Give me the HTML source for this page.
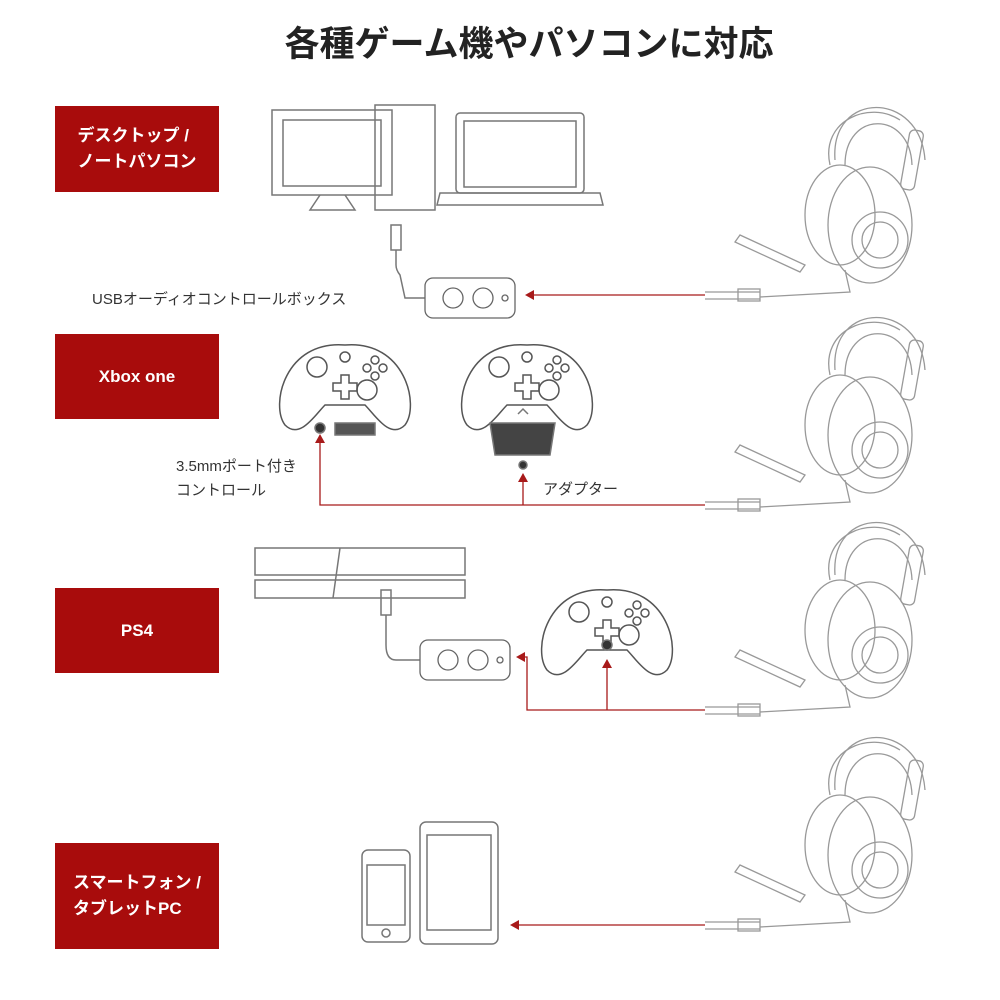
<!DOCTYPE html>
<html><head><meta charset="utf-8"><style>
html,body{margin:0;padding:0;background:#fff;}
#c{position:relative;width:1000px;height:1000px;overflow:hidden;font-family:"Liberation Sans","Noto Sans CJK JP",sans-serif;}
.t{position:absolute;left:0;width:1000px;top:16px;text-align:center;font-size:35px;font-weight:bold;color:#222;font-family:"Noto Sans CJK JP",sans-serif;padding-left:58px;box-sizing:border-box;}
.box{position:absolute;left:55px;width:164px;background:#a80c0c;color:#fff;font-weight:bold;font-size:17px;display:flex;align-items:center;justify-content:center;text-align:left;line-height:26px;font-family:"Liberation Sans","Noto Sans CJK JP",sans-serif;}
.lab{position:absolute;font-size:15px;color:#333;line-height:24px;font-family:"Liberation Sans","Noto Sans CJK JP",sans-serif;}
svg{position:absolute;left:0;top:0;}
</style></head><body><div id="c">
<div class="t">各種ゲーム機やパソコンに対応</div>
<div class="box" style="top:106px;height:86px;">デスクトップ /<br>ノートパソコン</div>
<div class="box" style="top:334px;height:85px;">Xbox one</div>
<div class="box" style="top:588px;height:85px;">PS4</div>
<div class="box" style="top:843px;height:106px;">スマートフォン /<br>タブレットPC</div>
<div class="lab" style="left:92px;top:288px;">USBオーディオコントロールボックス</div>
<div class="lab" style="left:176px;top:455px;">3.5mmポート付き<br>コントロール</div>
<div class="lab" style="left:543px;top:478px;">アダプター</div>
<svg width="1000" height="1000" viewBox="0 0 1000 1000">
<defs>
<g id="hs" fill="none" stroke="#999" stroke-width="1.3">
 <path d="M835 160 C830 90 920 90 925 160"/>
 <path d="M845 165 C845 110 910 110 912 165"/>
 <path d="M830 165 C820 120 870 100 900 120"/>
 <rect x="905" y="130" width="14" height="60" rx="5" transform="rotate(10 912 160)"/>
 <ellipse cx="840" cy="215" rx="35" ry="50"/>
 <ellipse cx="870" cy="225" rx="42" ry="58"/>
 <circle cx="880" cy="240" r="28"/>
 <circle cx="880" cy="240" r="18"/>
 <path d="M740 235 L805 265 L800 272 L735 242 Z"/>
 <path d="M845 270 L850 292 L760 297"/>
 <path d="M760 292 L705 292 M760 299 L705 299"/>
 <rect x="738" y="289" width="22" height="12"/>
</g>
<g id="ctl" fill="none" stroke="#555" stroke-width="1.5">
 <path d="M0 0 C-60 -5 -75 60 -60 80 C-45 95 -30 70 -20 60 L20 60 C30 70 45 95 60 80 C75 60 60 -5 0 0 Z"/>
 <circle cx="-28" cy="22" r="10"/><circle cx="22" cy="45" r="10"/>
 <path d="M-12 38 h8 v-8 h8 v8 h8 v8 h-8 v8 h-8 v-8 h-8 z"/>
 <circle cx="30" cy="15" r="4"/><circle cx="38" cy="23" r="4"/><circle cx="22" cy="23" r="4"/><circle cx="30" cy="31" r="4"/>
 <circle cx="0" cy="12" r="5"/>
</g>
<g id="box" fill="none" stroke="#666" stroke-width="1.3">
 <rect x="0" y="0" width="90" height="40" rx="8"/>
 <circle cx="28" cy="20" r="10"/><circle cx="58" cy="20" r="10"/><circle cx="80" cy="20" r="3"/>
</g>
</defs>
<use href="#hs" x="0" y="0"/>
<use href="#hs" x="0" y="210"/>
<use href="#hs" x="0" y="415"/>
<use href="#hs" x="0" y="630"/>
<g fill="none" stroke="#777" stroke-width="1.5">
 <rect x="272" y="110" width="120" height="85"/>
 <rect x="283" y="120" width="98" height="66"/>
 <path d="M320 195 L310 210 L355 210 L345 195"/>
 <rect x="375" y="105" width="60" height="105"/>
 <rect x="456" y="113" width="128" height="80" rx="4"/>
 <rect x="464" y="121" width="112" height="66"/>
 <path d="M440 193 L600 193 L603 205 L437 205 Z"/>
 <rect x="391" y="225" width="10" height="25"/>
 <path d="M396 250 L396 265 Q396 270 400 275 L405 298 L425 298"/>
 <use href="#box" x="425" y="278"/>
 <use href="#ctl" x="345" y="345"/>
 <use href="#ctl" x="527" y="345"/>
 <circle cx="320" cy="428" r="5" fill="#333"/>
 <rect x="335" y="423" width="40" height="12" fill="#555"/>
 <path d="M490 423 L555 423 L550 455 L495 455 Z" fill="#444"/>
 <circle cx="523" cy="465" r="4" fill="#333"/>
 <path d="M518 414 L523 409 L528 414"/>
 <path d="M255 548 L465 548 L465 575 L255 575 Z M255 580 L465 580 L465 598 L255 598 Z M340 548 L333 598"/>
 <rect x="381" y="590" width="10" height="25"/>
 <path d="M386 615 L386 645 Q386 660 396 660 L420 660"/>
 <use href="#box" x="420" y="640"/>
 <use href="#ctl" x="607" y="590"/>
 <circle cx="607" cy="645" r="5" fill="#333"/>
 <rect x="362" y="850" width="48" height="92" rx="6"/>
 <rect x="367" y="865" width="38" height="60"/>
 <circle cx="386" cy="933" r="4"/>
 <rect x="420" y="822" width="78" height="122" rx="6"/>
 <rect x="427" y="835" width="64" height="95"/>
</g>
<g fill="none" stroke="#a81a1a" stroke-width="1.3">
 <path d="M705 295 L532 295"/>
 <path d="M705 505 L320 505 L320 440 M523 505 L523 480"/>
 <path d="M705 710 L527 710 L527 657 L522 657 M607 710 L607 665"/>
 <path d="M705 925 L517 925"/>
</g>
<g fill="#a81a1a">
 <path d="M525 295 L534 290 L534 300 Z"/>
 <path d="M320 434 L315 443 L325 443 Z"/>
 <path d="M523 473 L518 482 L528 482 Z"/>
 <path d="M516 657 L525 652 L525 662 Z"/>
 <path d="M607 659 L602 668 L612 668 Z"/>
 <path d="M510 925 L519 920 L519 930 Z"/>
</g>
</svg>
</div></body></html>
